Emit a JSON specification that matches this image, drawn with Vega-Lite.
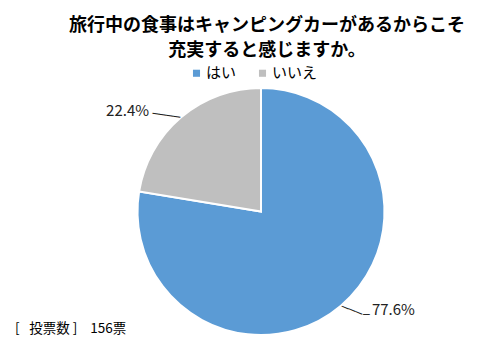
{
  "$schema": "https://vega.github.io/schema/vega-lite/v6.json",
  "autosize": {"type": "pad"},
  "padding": {"left": 15, "top": 16.5, "right": 0, "bottom": 0},
  "background": "white",
  "config": {"view": {"stroke": null}, "font": "Noto Sans CJK JP"},
  "resolve": {"scale": {"color": "independent"}, "legend": {"color": "independent"}},
  "title": {
    "text": "[\u2002\u00a0投票数\u00a0]\u2002\u00a0\u00a0156票",
    "orient": "bottom",
    "anchor": "start",
    "fontSize": 13.5,
    "fontWeight": "normal",
    "color": "#000000",
    "offset": -17,
    "dx": -54
  },
  "vconcat": [
    {
      "width": 250,
      "height": 250,
      "title": {
        "text": ["旅行中の食事はキャンピングカーがあるからこそ", "充実すると感じますか。"],
        "fontSize": 18,
        "fontWeight": "bold",
        "color": "#000000",
        "anchor": "middle",
        "frame": "group",
        "offset": 6,
        "lineHeight": 25,
        "dx": 6
      },
      "data": {
        "values": [
          {"answer": "はい", "share": 0.776},
          {"answer": "いいえ", "share": 0.224}
        ]
      },
      "encoding": {
        "theta": {"field": "share", "type": "quantitative", "stack": true},
        "order": {"field": "share", "type": "quantitative", "sort": "descending"},
        "detail": {"field": "answer", "type": "nominal"}
      },
      "layer": [
        {
          "mark": {"type": "arc", "outerRadius": 123.5, "stroke": "white", "strokeWidth": 2},
          "encoding": {
            "color": {
              "field": "answer",
              "type": "nominal",
              "scale": {"domain": ["はい", "いいえ"], "range": ["#5b9bd5", "#bfbfbf"]},
              "legend": {
                "orient": "none",
                "direction": "horizontal",
                "legendX": 53,
                "legendY": -21,
                "title": null,
                "symbolType": "square",
                "symbolSize": 50,
                "symbolStrokeWidth": 0,
                "labelFontSize": 15,
                "labelFont": "Noto Sans CJK JP",
                "labelColor": "#000000",
                "labelOffset": 2,
                "columnPadding": 18
              }
            }
          }
        },
        {
          "mark": {"type": "text", "radius": 123.5, "align": "right", "baseline": "alphabetic", "dx": -32, "dy": -1.3, "fontSize": 15, "color": "#222222"},
          "encoding": {
            "text": {"condition": {"test": "datum.answer === 'いいえ'", "field": "share", "type": "quantitative", "format": ".1%"}, "value": ""}
          }
        },
        {
          "mark": {"type": "text", "radius": 123.5, "align": "left", "baseline": "alphabetic", "dx": 31, "dy": 9.3, "fontSize": 15, "color": "#222222"},
          "encoding": {
            "text": {"condition": {"test": "datum.answer === 'はい'", "field": "share", "type": "quantitative", "format": ".1%"}, "value": ""}
          }
        },
        {
          "mark": {"type": "text", "radius": 123.5, "align": "right", "baseline": "alphabetic", "dx": -1, "dy": 4, "angle": 8, "font": "DejaVu Sans", "fontSize": 11.6, "color": "#222222"},
          "encoding": {
            "text": {"condition": {"test": "datum.answer === 'いいえ'", "value": "────"}, "value": ""}
          }
        },
        {
          "mark": {"type": "text", "radius": 123.5, "align": "left", "baseline": "alphabetic", "dx": 1, "dy": 4.15, "angle": 22, "font": "DejaVu Sans", "fontSize": 12, "color": "#222222"},
          "encoding": {
            "text": {"condition": {"test": "datum.answer === 'はい'", "value": "───"}, "value": ""}
          }
        },
        {
          "mark": {"type": "text", "radius": 123.5, "align": "left", "baseline": "alphabetic", "dx": 22, "dy": 12.1, "font": "DejaVu Sans", "fontSize": 11, "color": "#222222"},
          "encoding": {
            "text": {"condition": {"test": "datum.answer === 'はい'", "value": "─"}, "value": ""}
          }
        }
      ]
    }
  ]
}
